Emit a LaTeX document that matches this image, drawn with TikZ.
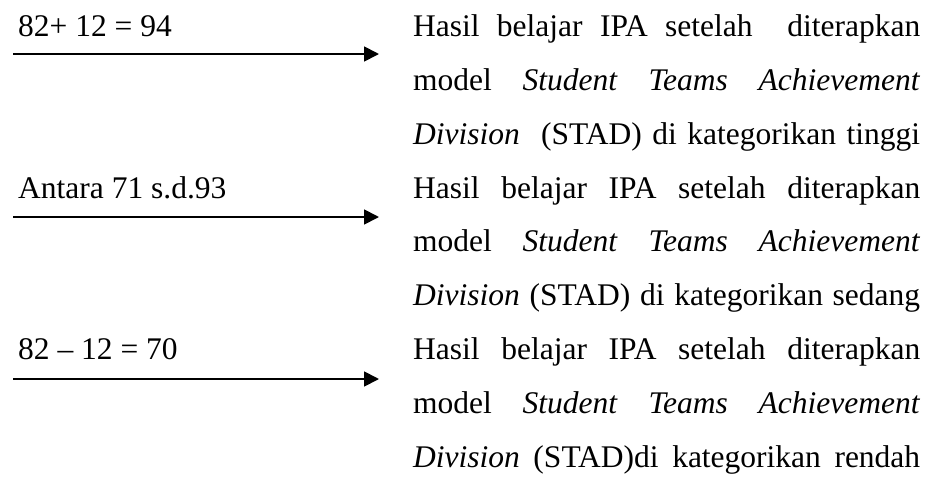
\documentclass[tikz,border=0pt]{standalone}
\usepackage{fontspec}
\setmainfont{Liberation Serif}
\usetikzlibrary{arrows.meta}
\tikzset{
  lbl/.style={anchor=base west, inner sep=0pt, font=\fontsize{31.5}{31.5}\selectfont},
  txt/.style={anchor=base west, inner sep=0pt, font=\fontsize{31.5}{31.5}\selectfont},
  arr/.style={line width=1.8pt, -{Triangle[length=15pt, width=15pt]}}
}
% one justified line of the right-hand column
\newcommand{\jline}[1]{\makebox[507pt][s]{#1}}
\begin{document}
\begin{tikzpicture}[x=1pt, y=-1pt]
\useasboundingbox (0,0) rectangle (935,482);

% left-hand values
\node[lbl] (v1) at (18,36.7) {82+ 12 = 94};
\node[lbl] (v2) at (18,198.1) {Antara 71 s.d.93};
\node[lbl] (v3) at (18,359.5) {82 – 12 = 70};

% right-hand conclusions
\node[txt] (a1) at (413,36.7)  {\jline{Hasil belajar IPA setelah\ \ diterapkan}};
\node[txt] (a2) at (413,90.5)  {\jline{model \textit{Student} \textit{Teams} \textit{Achievement}}};
\node[txt] (a3) at (413,144.3) {\jline{\textit{Division}\ \ (STAD) di kategorikan tinggi}};
\node[txt] (b1) at (413,198.1) {\jline{Hasil belajar IPA setelah diterapkan}};
\node[txt] (b2) at (413,251.9) {\jline{model \textit{Student} \textit{Teams} \textit{Achievement}}};
\node[txt] (b3) at (413,305.7) {\jline{\textit{Division} (STAD) di kategorikan sedang}};
\node[txt] (c1) at (413,359.5) {\jline{Hasil belajar IPA setelah diterapkan}};
\node[txt] (c2) at (413,413.3) {\jline{model \textit{Student} \textit{Teams} \textit{Achievement}}};
\node[txt] (c3) at (413,467)   {\jline{\textit{Division} (STAD)di kategorikan rendah}};

% arrow end points
\coordinate (s1) at (13,54);
\coordinate (e1) at (379,54);
\coordinate (s2) at (13,217);
\coordinate (e2) at (379,217);
\coordinate (s3) at (13,379);
\coordinate (e3) at (379,379);

\draw[arr] (s1) -- (e1);
\draw[arr] (s2) -- (e2);
\draw[arr] (s3) -- (e3);
\end{tikzpicture}
\end{document}
